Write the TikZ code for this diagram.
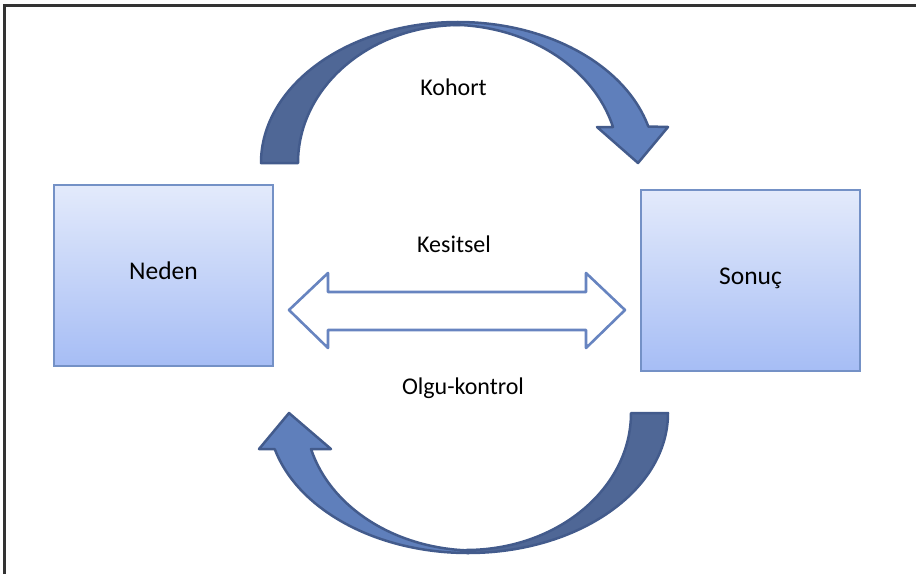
\documentclass[tikz,border=0pt]{standalone}
\usepackage{fontspec}
\setmainfont{Carlito}
\definecolor{boxtop}{HTML}{E3EAFB}
\definecolor{boxbot}{HTML}{A6BDF5}
\definecolor{boxline}{HTML}{7491C6}
\definecolor{backband}{HTML}{4F6796}
\definecolor{frontband}{HTML}{5F7FBB}
\definecolor{bandline}{HTML}{435B8C}
\definecolor{dblline}{HTML}{6784C0}
\definecolor{framecol}{HTML}{333333}
\tikzset{
  box/.style={draw=boxline, line width=1.2pt, top color=boxtop, bottom color=boxbot,
    minimum width=219pt, minimum height=181pt, inner sep=0pt,
    text height=16pt, text depth=9pt, font=\fontsize{25.5}{29}\selectfont},
  lbl/.style={anchor=base, font=\fontsize{24}{28}\selectfont},
  back/.style={fill=backband, draw=bandline, line width=2.5pt, line join=round},
  front/.style={fill=frontband, draw=bandline, line width=2.5pt, line join=round},
  dbl/.style={fill=white, draw=dblline, line width=2.6pt, line join=round}
}
\begin{document}
\begin{tikzpicture}[x=1pt, y=-1pt]
\useasboundingbox (0,0) rectangle (916,574);
\fill[white] (0,0) rectangle (916,574);

% partial frame: left and top edges only
\draw[framecol, line width=2.2pt] (4.5,574) -- (4.5,5.5) -- (916,5.5);

% the two boxes
\node[box] (neden) at (163.5,275.5) {Neden};
\node[box] (sonuc) at (750.5,280.5) {Sonuç};

% upper curved arrow (cohort): back band, then front band with head
\draw[back] (261,163) arc[start angle=180, end angle=270, x radius=197, y radius=141]
  -- (460,25) arc[start angle=270, end angle=180, x radius=162, y radius=138] -- cycle;
\draw[front] (458,22) arc[start angle=270, end angle=345, x radius=197, y radius=141]
  -- (668,127) -- (638,163) -- (597,127) -- (613,127)
  arc[start angle=345, end angle=270, x radius=169, y radius=138] -- cycle;

% lower curved arrow (case-control)
\draw[back] (668,413) arc[start angle=0, end angle=90, x radius=200, y radius=140]
  -- (466,550) arc[start angle=90, end angle=0, x radius=165, y radius=137] -- cycle;
\draw[front] (468,553) arc[start angle=90, end angle=165, x radius=200, y radius=140]
  -- (259,449) -- (289,413) -- (331,449) -- (311,449)
  arc[start angle=165, end angle=90, x radius=170, y radius=137] -- cycle;

% cross-sectional double arrow
\draw[dbl] (289,310) -- (328,273) -- (328,292) -- (586,292) -- (586,273) -- (625,310)
  -- (586,348) -- (586,330) -- (328,330) -- (328,348) -- cycle;

% labels
\node[lbl] (kohort) at (453.5,95.5) {Kohort};
\node[lbl] (kesitsel) at (454,252) {Kesitsel};
\node[lbl] (olgu) at (463,394) {Olgu-kontrol};
\end{tikzpicture}
\end{document}
